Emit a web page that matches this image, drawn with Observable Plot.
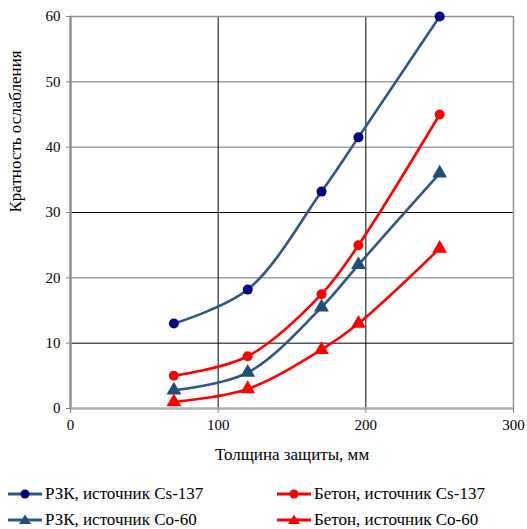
<!DOCTYPE html>
<html><head><meta charset="utf-8">
<script src="https://cdn.jsdelivr.net/npm/d3@7"></script>
<script src="https://cdn.jsdelivr.net/npm/@observablehq/plot@0.6"></script>
</head><body style="margin:0;background:#fff;font-family:'Liberation Serif'"><div id="chart"></div><div id="legend" style="position:relative;width:527px;height:57px;font-size:17px;color:#000;font-family:'Liberation Serif'"></div><script>
const thickness = [70, 120, 170, 195, 250];
const rzkCs = [13, 18.2, 33.2, 41.5, 60];
const betonCs = [5, 8, 17.5, 25, 45];
const rzkCo = [2.8, 5.5, 15.5, 22, 36];
const betonCo = [1, 3, 9, 13, 24.5];
const seriesNames = ["РЗК, источник Cs-137", "Бетон, источник Cs-137", "РЗК, источник Co-60", "Бетон, источник Co-60"];
const seriesValues = [rzkCs, betonCs, rzkCo, betonCo];
const lineColors = ["#2f5687", "#ff0000", "#2f5687", "#ff0000"];
const markerColors = ["#000080", "#ff0000", "#1f4e79", "#ff0000"];
const symbols = ["circle", "circle", "triangle", "triangle"];
const xTicks = [0, 100, 200, 300];
const yTicks = [0, 10, 20, 30, 40, 50, 60];
const FONT = "Liberation Serif";

const data = [];
seriesNames.forEach((s, k) => thickness.forEach((t, i) => data.push({series: s, k, x: t, y: seriesValues[k][i]})));

const chart = Plot.plot({
  width: 527, height: 472,
  marginLeft: 70, marginRight: 14, marginTop: 16, marginBottom: 64,
  style: {fontFamily: FONT, fontSize: "15px", color: "#000", background: "#fff"},
  x: {domain: [0, 300]},
  y: {domain: [0, 60]},
  marks: [
    Plot.ruleY([20, 40, 50], {stroke: "#a0a0a0", strokeWidth: 1.5}),
    Plot.ruleY([10, 30], {stroke: "#000", strokeWidth: 1}),
    Plot.ruleX([100, 200], {stroke: "#000", strokeWidth: 1}),
    Plot.ruleX([300], {stroke: "#909090", strokeWidth: 1.5}),
    Plot.ruleY([60], {stroke: "#909090", strokeWidth: 1.5}),
    Plot.ruleX([0], {stroke: "#909090", strokeWidth: 2.5}),
    Plot.ruleY([0], {stroke: "#b0b0b0", strokeWidth: 2.5}),
    Plot.axisX({ticks: xTicks, tickSize: 5, tickPadding: 6, stroke: "#808080", label: null, fontSize: 15, fontFamily: FONT}),
    Plot.axisY({ticks: yTicks, tickSize: 4, tickPadding: 6, stroke: "#808080", label: null, fontSize: 15, fontFamily: FONT}),
    ...seriesNames.map((s, k) => Plot.line(data.filter(d => d.k === k), {x: "x", y: "y", stroke: lineColors[k], strokeWidth: 2.6, curve: "catmull-rom"})),
    ...seriesNames.map((s, k) => Plot.dot(data.filter(d => d.k === k), {x: "x", y: "y", fill: markerColors[k], stroke: "none", symbol: symbols[k], r: k < 2 ? 5 : 5.5})),
    Plot.text(["Кратность ослабления"], {frameAnchor: "left", dx: -55, rotate: -90, fontSize: 17, fontFamily: FONT}),
    Plot.text(["Толщина защиты, мм"], {frameAnchor: "bottom", dy: 51, fontSize: 17, fontFamily: FONT})
  ]
});
document.getElementById("chart").append(chart);

const legend = document.getElementById("legend");
const pos = [[8, 22], [277, 22], [8, 48], [277, 48]];
seriesNames.forEach((s, k) => {
  const div = document.createElement("div");
  div.style.cssText = `position:absolute;display:flex;align-items:center;white-space:nowrap;line-height:20px;left:${pos[k][0]}px;top:${pos[k][1] - 10}px;font-size:17px;`;
  const marker = symbols[k] === "circle"
    ? `<circle cx="17" cy="10" r="4.5" fill="${markerColors[k]}"/>`
    : `<path d="M17,4.5 L23,14 L11,14 Z" fill="${markerColors[k]}"/>`;
  div.innerHTML = `<svg width="35" height="20" style="margin-right:2px"><line x1="0" y1="10" x2="34" y2="10" stroke="${lineColors[k]}" stroke-width="3"/>${marker}</svg><span>${s}</span>`;
  legend.append(div);
});
document.querySelectorAll("body, body *").forEach(el => el.style.setProperty("font-family", "'Liberation Serif'", "important"));
</script></body></html>
